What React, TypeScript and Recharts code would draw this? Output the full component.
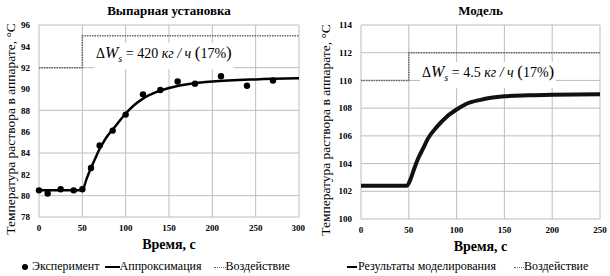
import React from "react";
import {
  ComposedChart,
  Line,
  Scatter,
  XAxis,
  YAxis,
  CartesianGrid,
} from "recharts";

const serif = '"Liberation Serif", "Times New Roman", serif';

// Выпарная установка
const expTime = [0, 10, 25, 40, 50, 60, 70, 85, 100, 120, 140, 160, 180, 210, 240, 270];
const expTemp = [80.5, 80.2, 80.6, 80.5, 80.6, 82.6, 84.7, 86.1, 87.6, 89.5, 89.9, 90.7, 90.5, 91.2, 90.3, 90.8];

const approxTime = [0, 50, 55, 60, 65, 70, 75, 80, 85, 90, 100, 110, 120, 135, 150, 175, 200, 250, 300];
const approxTemp = [80.5, 80.5, 81.6, 82.6, 83.5, 84.4, 85.1, 85.7, 86.2, 86.7, 87.7, 88.5, 89.1, 89.7, 90.1, 90.5, 90.7, 90.9, 91.0];

const plantStepTime = [0, 50, 300];
const plantStepValue = [92, 95, 95];

const plantXTicks = [0, 50, 100, 150, 200, 250, 300];
const plantYTicks = [78, 80, 82, 84, 86, 88, 90, 92, 94, 96];

// Модель
const modelTime = [0, 48, 52, 56, 60, 65, 70, 80, 90, 100, 110, 125, 150, 175, 200, 250];
const modelTemp = [102.4, 102.4, 102.9, 103.7, 104.4, 105.1, 105.8, 106.7, 107.4, 107.9, 108.3, 108.6, 108.85, 108.93, 108.97, 109.0];

const modelStepTime = [0, 50, 250];
const modelStepValue = [110, 112, 112];

const modelXTicks = [0, 50, 100, 150, 200, 250];
const modelYTicks = [100, 102, 104, 106, 108, 110, 112, 114];

const toRows = (xs: number[], ys: number[]) => xs.map((t, i) => ({ t, v: ys[i] }));

const gridColor = "#bdbdbd";
const tickStyle = { fill: "#000", fontSize: 9, fontWeight: 700, fontFamily: serif };

const yTitle = (left: number) => (props: any) => {
  const vb = props.viewBox;
  const cx = vb.x + left;
  const cy = vb.y + vb.height / 2 + 8;
  return (
    <text
      x={cx}
      y={cy}
      transform={`rotate(-90 ${cx} ${cy})`}
      textAnchor="middle"
      dominantBaseline="central"
      fontFamily={serif}
      fontSize={13.5}
      fill="#000"
    >
      Температура раствора в аппарате, °С
    </text>
  );
};

const xTitle = (props: any) => {
  const vb = props.viewBox;
  return (
    <text
      x={vb.x + vb.width / 2}
      y={vb.y + 27}
      textAnchor="middle"
      dominantBaseline="central"
      fontFamily={serif}
      fontSize={14}
      fontWeight={700}
      fill="#000"
    >
      Время, с
    </text>
  );
};

const Dot = (p: any) => <circle cx={p.cx} cy={p.cy} r={3.2} fill="#000" />;

const Annotation = ({ left, top, amount }: { left: number; top: number; amount: string }) => (
  <div
    style={{
      position: "absolute",
      left,
      top,
      background: "#fff",
      fontFamily: serif,
      fontSize: 14,
      lineHeight: "20px",
      whiteSpace: "nowrap",
      padding: "0 2px",
    }}
  >
    Δ<i style={{ fontSize: 16 }}>W</i>
    <sub style={{ fontSize: 10, fontStyle: "italic" }}>s</sub> = {amount} <i>кг / ч</i>{" "}
    <span style={{ fontSize: 17 }}>(</span>17%<span style={{ fontSize: 17 }}>)</span>
  </div>
);

const LineMark = ({ dotted, w }: { dotted?: boolean; w: number }) => (
  <span
    style={{
      display: "inline-block",
      width: w,
      height: 0,
      borderTop: dotted ? "1.5px dotted #666" : "2.5px solid #000",
      verticalAlign: "middle",
    }}
  />
);

const legendText = { fontFamily: serif, fontSize: 12, color: "#000" };

const App = () => {
  return (
    <div style={{ position: "absolute", left: 0, top: 0, width: 610, height: 276, background: "#fff" }}>
      {/* left: plant */}
      <div style={{ position: "absolute", left: 0, top: 0, width: 305, height: 276 }}>
        <div style={{ position: "absolute", left: 39, width: 260, top: 3, textAlign: "center", fontFamily: serif, fontWeight: 700, fontSize: 13 }}>
          Выпарная установка
        </div>
        <ComposedChart width={305} height={276} margin={{ top: 25, right: 6, bottom: 29, left: 0 }}>
          <CartesianGrid stroke={gridColor} />
          <XAxis
            type="number"
            dataKey="t"
            domain={[0, 300]}
            ticks={plantXTicks}
            axisLine={false}
            tickLine={false}
            tick={tickStyle}
            height={30}
            label={xTitle}
          />
          <YAxis
            type="number"
            domain={[78, 96]}
            ticks={plantYTicks}
            axisLine={false}
            tickLine={false}
            tick={tickStyle}
            width={39}
            tickMargin={3}
            label={yTitle(10)}
          />
          <Line
            data={toRows(plantStepTime, plantStepValue)}
            dataKey="v"
            type="stepAfter"
            stroke="#666"
            strokeWidth={1.5}
            strokeDasharray="1.5 1"
            dot={false}
            isAnimationActive={false}
            name="Воздействие"
          />
          <Line
            data={toRows(approxTime, approxTemp)}
            dataKey="v"
            type="monotone"
            stroke="#000"
            strokeWidth={2.5}
            dot={false}
            isAnimationActive={false}
            name="Аппроксимация"
          />
          <Scatter
            data={toRows(expTime, expTemp)}
            dataKey="v"
            fill="#000"
            shape={Dot}
            isAnimationActive={false}
            name="Эксперимент"
          />
        </ComposedChart>
        <Annotation left={94} top={43} amount="420" />
        <div style={{ position: "absolute", left: 22, top: 259, display: "flex", alignItems: "center", whiteSpace: "nowrap", ...legendText }}>
          <span style={{ display: "inline-block", width: 6, height: 6, borderRadius: 3, background: "#000", marginRight: 4 }} />
          <span>Эксперимент</span>
          <span style={{ marginLeft: 5 }}><LineMark w={15} /></span>
          <span>Аппроксимация</span>
          <span style={{ marginLeft: 12 }}><LineMark dotted w={12} /></span>
          <span>Воздействие</span>
        </div>
      </div>

      {/* right: model */}
      <div style={{ position: "absolute", left: 305, top: 0, width: 305, height: 276 }}>
        <div style={{ position: "absolute", left: 56, width: 239, top: 3, textAlign: "center", fontFamily: serif, fontWeight: 700, fontSize: 13 }}>
          Модель
        </div>
        <ComposedChart width={305} height={276} margin={{ top: 25, right: 10, bottom: 27, left: 0 }}>
          <CartesianGrid stroke={gridColor} />
          <XAxis
            type="number"
            dataKey="t"
            domain={[0, 250]}
            ticks={modelXTicks}
            axisLine={false}
            tickLine={false}
            tick={tickStyle}
            height={30}
            label={xTitle}
          />
          <YAxis
            type="number"
            domain={[100, 114]}
            ticks={modelYTicks}
            axisLine={false}
            tickLine={false}
            tick={tickStyle}
            width={56}
            tickMargin={3}
            label={yTitle(20)}
          />
          <Line
            data={toRows(modelStepTime, modelStepValue)}
            dataKey="v"
            type="stepAfter"
            stroke="#666"
            strokeWidth={1.5}
            strokeDasharray="1.5 1"
            dot={false}
            isAnimationActive={false}
            name="Воздействие"
          />
          <Line
            data={toRows(modelTime, modelTemp)}
            dataKey="v"
            type="monotone"
            stroke="#111"
            strokeWidth={4}
            dot={false}
            isAnimationActive={false}
            name="Результаты моделирования"
          />
        </ComposedChart>
        <Annotation left={115} top={62} amount="4.5" />
        <div style={{ position: "absolute", left: 42, top: 259, display: "flex", alignItems: "center", whiteSpace: "nowrap", ...legendText }}>
          <LineMark w={10} />
          <span style={{ marginLeft: 1 }}>Результаты моделирования</span>
          <span style={{ marginLeft: 18 }}><LineMark dotted w={10} /></span>
          <span>Воздействие</span>
        </div>
      </div>
    </div>
  );
};

export default App;
